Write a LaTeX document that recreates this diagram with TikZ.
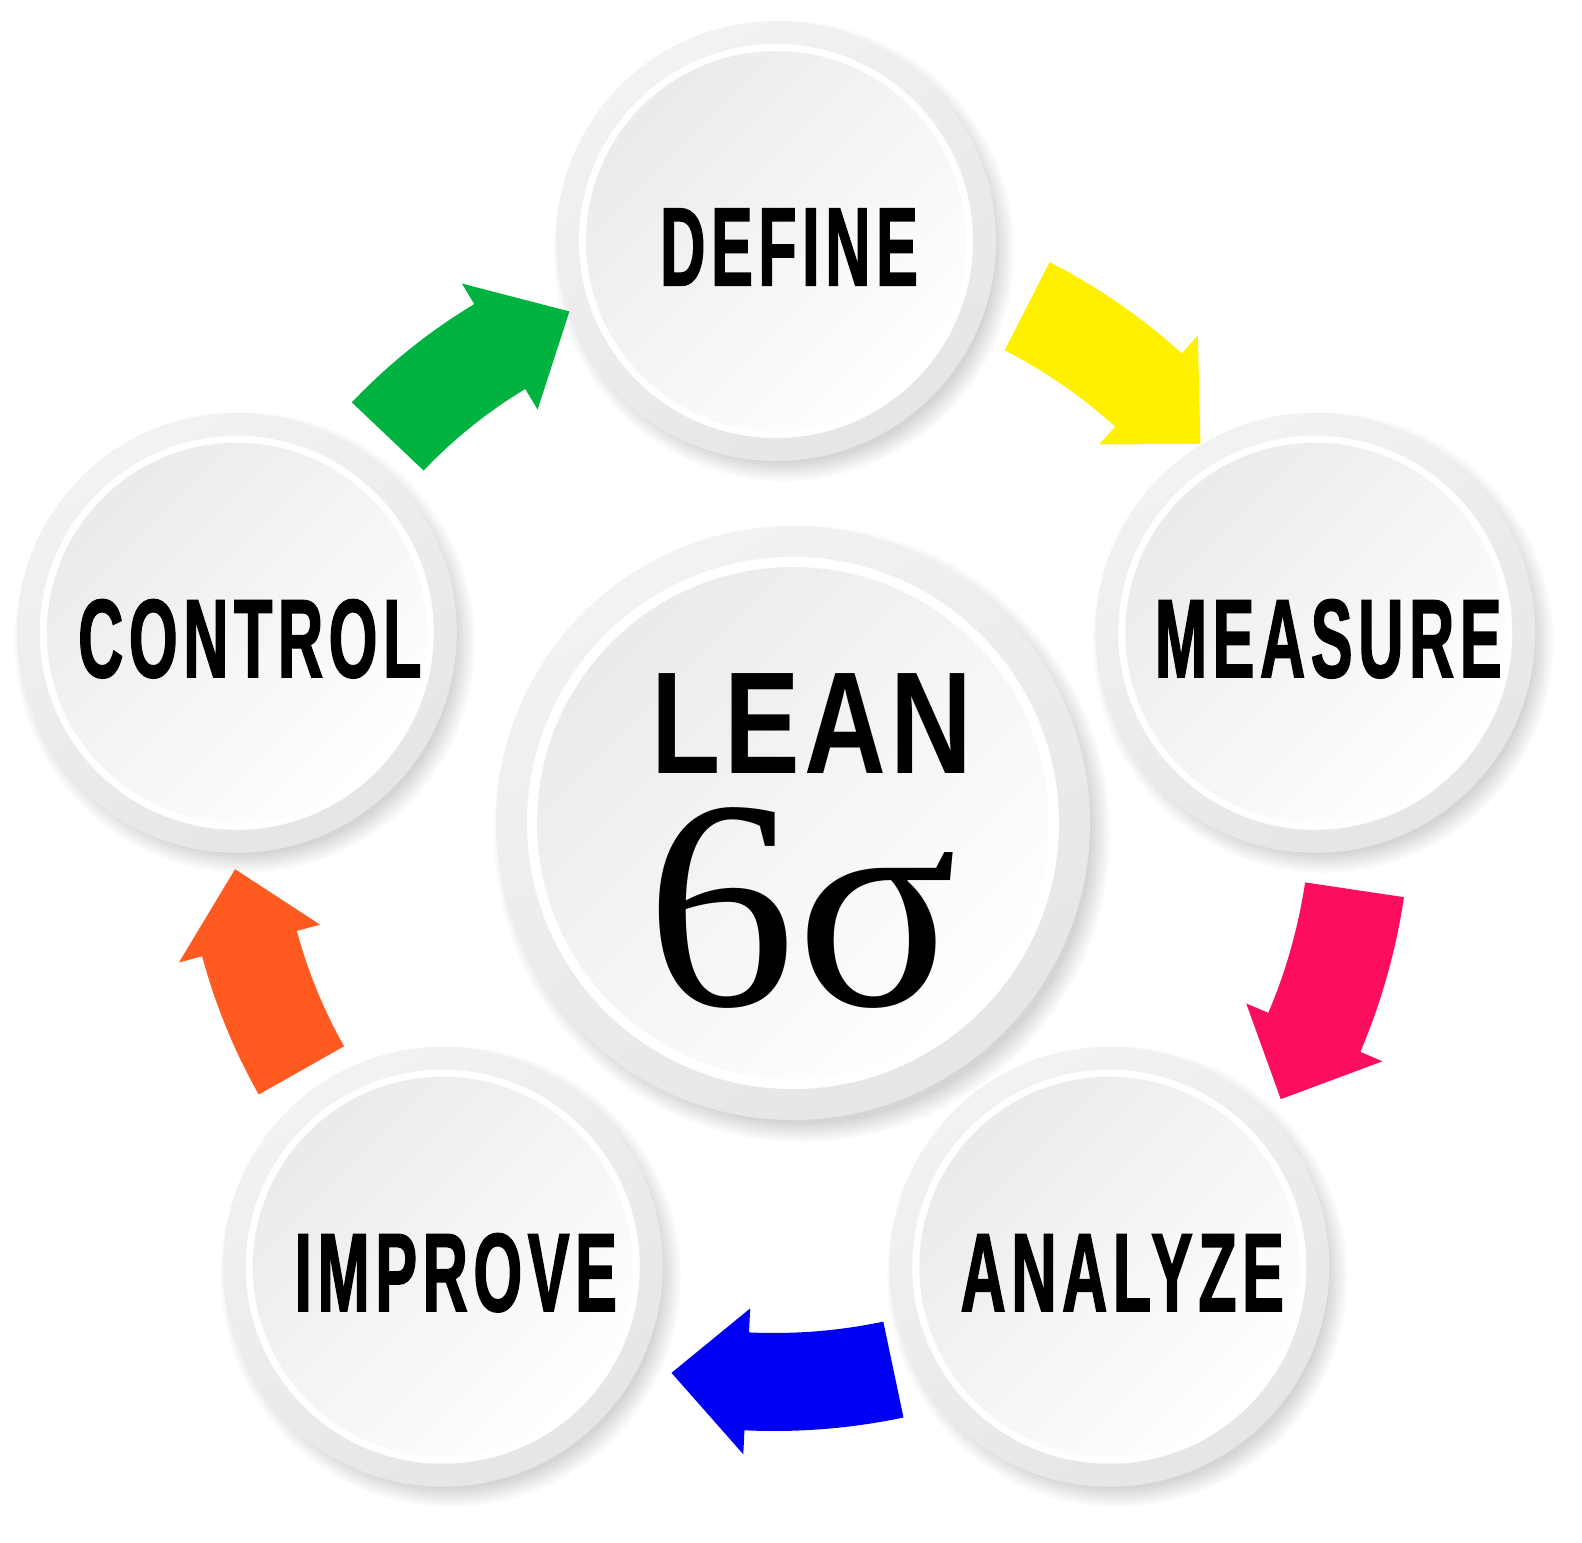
\documentclass[tikz,border=0pt]{standalone}
\usepackage{fontspec}
\setmainfont{Liberation Sans}
\newfontfamily\stepfont[FakeStretch=0.56,LetterSpace=5,FakeBold=1.2]{Liberation Sans}
\newfontfamily\leanfont[FakeStretch=0.78,LetterSpace=3]{Liberation Sans}
\newfontfamily\sigmafont{Liberation Serif}

\definecolor{arrowgreen}{RGB}{0,178,64}
\definecolor{arrowyellow}{RGB}{255,240,0}
\definecolor{arrowpink}{RGB}{252,14,92}
\definecolor{arrowblue}{RGB}{0,0,245}
\definecolor{arroworange}{RGB}{255,90,32}

\tikzset{
  rim/.style={top color=black!5, bottom color=black!10, shading angle=30},
  face/.style={top color=black!8, bottom color=white, shading angle=45},
  steplabel/.style={font={\stepfont\bfseries\fontsize{31.8}{36}\selectfont}, xshift=0.13cm, yshift=-0.06cm},
}

\begin{document}
\begin{tikzpicture}[x=0.01cm,y=0.01cm]
	\fill[white] (0,0) rectangle (1582,-1542);
	\useasboundingbox (0,0) rectangle (1582,-1542);
	\coordinate (cyc) at (776,-808);
	\coordinate (ring) at (774,-803);
	\coordinate (hub) at (793,-823);
	% Draw the middle disc with its shadow
	\foreach \k in {0,...,6}
		\fill[black,opacity=0.025] ([shift={(9,-11)}]hub) circle[radius=290+3*\k];
	\shade[rim] (hub) circle[radius=297];
	\fill[white] (hub) circle[radius=266];
	\shade[face] (hub) circle[radius=256];
	\node[font={\leanfont\bfseries\fontsize{41.3}{46}\selectfont}, anchor=base, inner sep=0] (lean) at (812,-773) {LEAN};
	\node[font={\sigmafont\fontsize{85}{90}\selectfont}, anchor=base, inner sep=0] (sixsigma) at (802,-1005) {6σ};
	% Draw the five steps of the cycle
	\foreach \ang/\nm/\txt in {90/define/DEFINE, 18/measure/MEASURE, -54/analyze/ANALYZE, -126/improve/IMPROVE, 162/control/CONTROL}{
		\path (cyc) ++(\ang:567) coordinate (\nm);
		\foreach \k in {0,...,6}
			\fill[black,opacity=0.025] ([shift={(8,-10)}]\nm) circle[radius=212+3*\k];
		\shade[rim] (\nm) circle[radius=220];
		\fill[white] (\nm) circle[radius=197];
		\shade[face] (\nm) circle[radius=190];
		\node[steplabel] (\nm-label) at (\nm) {\txt};
	}
	% Draw the curved arrows between the steps
	\foreach \col/\ta/\tb/\tc/\ri/\ro in {arrowgreen/136.5/121/112.6/483/582, arrowyellow/63/47.8/40.1/508/607, arrowpink/-8.5/-23/-30.3/537/637, arrowblue/-78.1/-92.7/-100.2/530/628, arroworange/209.5/195/187/494/592}{
		\pgfmathsetmacro\bi{\ri-24}
		\pgfmathsetmacro\bo{\ro+24}
		\pgfmathsetmacro\rmid{(\ri+\ro)/2}
		\fill[\col,shift={(ring)}] (\ta:\ri) arc[start angle=\ta, end angle=\tb, radius=\ri] -- (\tb:\bi) -- (\tc:\rmid) -- (\tb:\bo) -- (\tb:\ro) arc[start angle=\tb, end angle=\ta, radius=\ro] -- cycle;
	}
\end{tikzpicture}
\end{document}
